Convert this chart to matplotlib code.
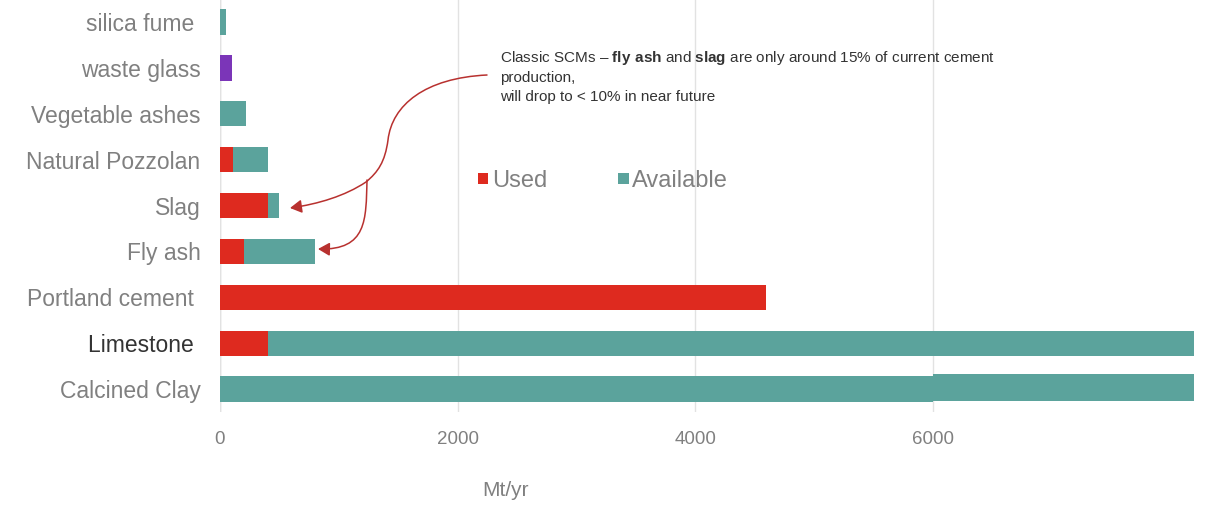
import matplotlib
matplotlib.use("Agg")
import matplotlib.pyplot as plt
from matplotlib.path import Path
from matplotlib.patches import FancyArrowPatch

plt.rcParams['font.family'] = ['Liberation Sans', 'DejaVu Sans']
plt.rcParams['mathtext.fontset'] = 'custom'
plt.rcParams['mathtext.rm'] = 'Liberation Sans'
plt.rcParams['mathtext.bf'] = 'Liberation Sans:bold'

# bottom to top
materials = ["Calcined Clay", "Limestone ", "Portland cement ", "Fly ash", "Slag",
             "Natural Pozzolan", "Vegetable ashes", "waste glass", "silica fume "]
used = [0, 400, 4600, 200, 400, 110, 0, 0, 0]
available = [6000, 8000, 0, 600, 100, 290, 220, 0, 50]
other = [0, 0, 0, 0, 0, 0, 0, 100, 0]
clay_extra = 2500  # second piece of the calcined clay bar, from 6000 on

RED = '#DE2A1F'
TEAL = '#5BA39C'
PURPLE = '#7B35B8'
GRAY = '#808080'

W, H = 1208, 508
fig = plt.figure(figsize=(W / 100, H / 100), dpi=100)
ax = fig.add_axes([220 / W, 1 - 412 / H, 974 / W, 412 / H])

y = list(range(len(materials)))
h = 0.55
ax.barh(y, used, height=h, color=RED, label='Used', zorder=3)
ax.barh(y, available, left=used, height=h, color=TEAL, label='Available', zorder=3)
ax.barh(y, other, height=h, color=PURPLE, zorder=3)
ax.barh(0.03, clay_extra, left=available[0], height=0.6, color=TEAL, zorder=3)

ax.set_xlim(0, 8200)
ax.set_ylim(-0.5, 8.48)
ax.set_xticks([0, 2000, 4000, 6000])
ax.set_yticks(y)
ax.set_yticklabels(materials)
for lab in ax.get_yticklabels():
    lab.set_color('#333333' if lab.get_text().startswith('Limestone') else GRAY)
ax.tick_params(axis='y', length=0, pad=14, labelsize=16.5)
ax.tick_params(axis='x', length=0, pad=14, labelsize=13.5, labelcolor=GRAY)
for lab in ax.get_xticklabels():
    lab.set_family(['Liberation Sans Narrow', 'Liberation Sans'])
for s in ax.spines.values():
    s.set_visible(False)
ax.grid(axis='x', color='#e2e2e2', linewidth=1, zorder=0)
ax.axvline(0, color='#d8d8d8', linewidth=1, zorder=1)

fig.text(505 / W, 1 - 490 / H, 'Mt/yr', ha='center', va='center', fontsize=15,
         color=GRAY, family=['Liberation Sans Narrow', 'Liberation Sans'])

ax.legend(loc='center', bbox_to_anchor=(603 / W, 1 - 181 / H), bbox_transform=fig.transFigure,
          ncol=2, frameon=False, fontsize=17, labelcolor=GRAY, handlelength=0.45,
          handleheight=0.32, handletextpad=0.15, columnspacing=3.0)

fig.text(500 / W, 1 - 49 / H,
         'Classic SCMs – $\\mathbf{fly\\ ash}$ and $\\mathbf{slag}$ are only around 15% of current cement\n'
         'production,\nwill drop to < 10% in near future',
         ha='left', va='top', fontsize=11, color='#333333', linespacing=1.4)


def px(x, yy):
    return (x / W, 1 - yy / H)


ARROW = '#B8312F'
main = Path([px(487, 75), px(425, 78), px(392, 105), px(388, 140),
             px(385, 162), px(378, 172), px(366, 182),
             px(345, 196), px(318, 204), px(290, 208)],
            [Path.MOVETO, Path.CURVE4, Path.CURVE4, Path.CURVE4,
             Path.CURVE4, Path.CURVE4, Path.CURVE4,
             Path.CURVE4, Path.CURVE4, Path.CURVE4])
branch = Path([px(367, 180), px(366, 220), px(367, 250), px(318, 249)],
              [Path.MOVETO, Path.CURVE4, Path.CURVE4, Path.CURVE4])
for p in (main, branch):
    a = FancyArrowPatch(path=p, transform=fig.transFigure, arrowstyle='-|>,head_length=7,head_width=4',
                        color=ARROW, linewidth=1.1, shrinkA=0, shrinkB=0)
    fig.add_artist(a)

fig.savefig('out.png', dpi=100)
